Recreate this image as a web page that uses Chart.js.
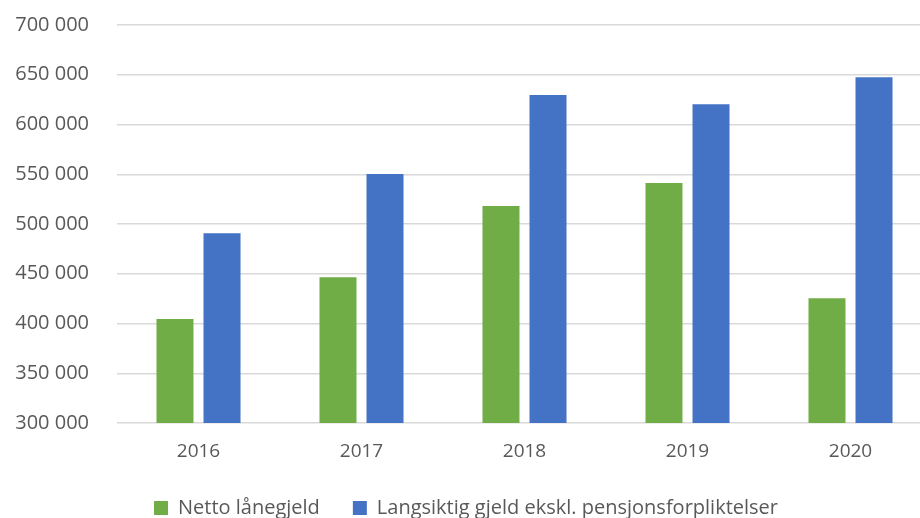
<!DOCTYPE html>
<html>
<head>
<meta charset="utf-8">
<script src="https://cdn.jsdelivr.net/npm/chart.js@4.4.0/dist/chart.umd.min.js"></script>
<style>
  html, body { margin: 0; padding: 0; background: #fff; overflow: hidden; }
  #wrap { width: 945px; height: 518px; }
</style>
</head>
<body>
<div id="wrap"><canvas id="debtChart"></canvas></div>
<script>
const years = ["2016", "2017", "2018", "2019", "2020"];
const nettoLanegjeld = [404400, 446600, 518200, 541300, 425500];
const langsiktigGjeld = [490800, 550300, 629600, 620300, 647400];
const seriesNames = ["Netto lånegjeld", "Langsiktig gjeld ekskl. pensjonsforpliktelser"];
const yTicks = [300000, 350000, 400000, 450000, 500000, 550000, 600000, 650000, 700000];

const textColor = "#595959";
const fontFamily = "'Open Sans', sans-serif";

function formatThousands(value) {
  return String(value).replace(/\B(?=(\d{3})+(?!\d))/g, " ");
}

const ctx = document.getElementById("debtChart").getContext("2d");
const debtChart = new Chart(ctx, {
  type: "bar",
  data: {
    labels: years,
    datasets: [
      {
        label: seriesNames[0],
        data: nettoLanegjeld,
        backgroundColor: "#70AD47",
      },
      {
        label: seriesNames[1],
        data: langsiktigGjeld,
        backgroundColor: "#4472C4",
      },
    ],
  },
  options: {
    responsive: true,
    maintainAspectRatio: false,
    animation: false,
    categoryPercentage: 0.577,
    barPercentage: 0.787,
    layout: {
      // legend padding is wide for horizontal spacing, trim the leftover below
      padding: { top: 0, right: 13, left: 0, bottom: -10 },
    },
    plugins: {
      tooltip: { enabled: false },
      legend: {
        position: "bottom",
        labels: {
          boxWidth: 14,
          boxHeight: 14,
          padding: 33,
          color: textColor,
          font: { family: fontFamily, size: 20 },
        },
      },
    },
    scales: {
      x: {
        afterFit: (scale) => { scale.height = 42; },
        grid: { display: false },
        border: { display: false },
        ticks: {
          color: textColor,
          padding: 9,
          font: { family: fontFamily, size: 19 },
        },
      },
      y: {
        min: 300000,
        max: 700000,
        afterFit: (scale) => {
          scale.width = 117;
          scale.paddingTop = 25;
        },
        afterBuildTicks: (scale) => {
          scale.ticks = yTicks.map((v) => ({ value: v }));
        },
        grid: { color: "#d9d9d9", lineWidth: 1.5, drawTicks: false },
        border: { display: false },
        ticks: {
          color: textColor,
          padding: 28,
          font: { family: fontFamily, size: 20 },
          callback: (value) => formatThousands(value),
        },
      },
    },
  },
});
</script>
</body>
</html>
